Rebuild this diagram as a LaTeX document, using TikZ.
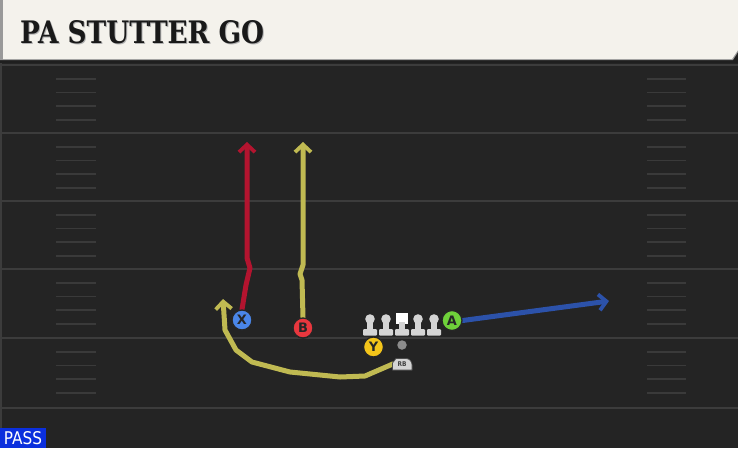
\documentclass[tikz,border=0pt]{standalone}
\usepackage{fontspec}
\setmainfont{DejaVu Sans}
\newfontfamily\titlefont{DejaVu Serif}
\newfontfamily\tagfont{DejaVu Sans Condensed}
\usetikzlibrary{arrows.meta}
\definecolor{fieldbg}{HTML}{242424}
\definecolor{fieldline}{HTML}{3C3C3C}
\definecolor{hashcol}{HTML}{3A3A3A}
\definecolor{headbg}{HTML}{F4F2EC}
\definecolor{routered}{HTML}{B3142F}
\definecolor{routeyel}{HTML}{C0BA52}
\definecolor{routeblue}{HTML}{2C52AA}
\definecolor{xfill}{HTML}{4A86E8}
\definecolor{bfill}{HTML}{E8373E}
\definecolor{yfill}{HTML}{F4C51A}
\definecolor{afill}{HTML}{6FD13A}
\definecolor{linegray}{HTML}{D4D4D4}
\definecolor{passblue}{HTML}{0B2FDD}
\tikzset{
  player/.style={circle,draw=black!85,line width=1.3pt,minimum size=20pt,inner sep=0pt,
    font=\bfseries\fontsize{13}{13}\selectfont,text=black!85},
  route/.style={line width=5pt,line join=round,line cap=round,
    -{Straight Barb[length=7.5pt,width=16pt,line width=3.8pt]}},
  fline/.style={fieldline,line width=2.2pt},
  hash/.style={hashcol,line width=1.8pt},
  lman/.pic={
    \fill[linegray] (0,-7) circle (4.8);
    \fill[linegray] (-2.7,-6) rectangle (2.7,4);
    \fill[linegray,rounded corners=1pt] (-7,3) rectangle (7,9.5);
  },
  cman/.pic={
    \fill[white] (-5.8,-13.5) rectangle (5.8,-2.5);
    \fill[linegray] (-2.7,-4) rectangle (2.7,4);
    \fill[linegray,rounded corners=1pt] (-7,3) rectangle (7,9.5);
  }
}
\begin{document}
\begin{tikzpicture}[x=1pt,y=-1pt]
\useasboundingbox (0,0) rectangle (738,448);
% background
\fill[fieldbg] (0,0) rectangle (738,448);
\fill[black!88] (0,56) rectangle (738,63);
% header
\fill[black!40] (0,0) -- (738,0) -- (738,52) -- (733,60) -- (0,60) -- cycle;
\fill[headbg] (3,0) -- (738,0) -- (738,50) -- (732,59) -- (3,59) -- cycle;
\node[anchor=south west,inner sep=0pt,text=black!30] at (21,45) {\resizebox{244pt}{23pt}{\titlefont\bfseries PA STUTTER GO}};
\node[anchor=south west,inner sep=0pt,text=black!90] (title) at (20,44)
  {\resizebox{244pt}{23pt}{\titlefont\bfseries PA STUTTER GO}};
% left edge
\draw[fieldline,line width=2pt] (1,63) -- (1,448);
% field lines
\foreach \yy in {65,133,201,269,338,408} {\draw[fline] (2,\yy) -- (738,\yy);}
% hash marks
\foreach \yy in {65,133,201,269,338} {
  \foreach \k in {1,2,3,4} {
    \draw[hash] (56,\yy+13.7*\k) -- (96,\yy+13.7*\k);
    \draw[hash] (647,\yy+13.7*\k) -- (686,\yy+13.7*\k);
  }
}
% linemen
\pic at (370,326) {lman};
\pic at (386,326) {lman};
\pic at (402,326) {cman};
\pic at (418,326) {lman};
\pic at (434,326) {lman};
% QB
\node[circle,fill=black!45,minimum size=9.5pt,inner sep=0pt] (qb) at (402,345) {};
% coordinates for route ends
\coordinate (xend) at (247,142);
\coordinate (bend) at (303,142);
\coordinate (rbend) at (223,299);
\coordinate (aend) at (609,301);
% players
\node[player,fill=xfill] (X) at (242,320) {X};
\node[player,fill=bfill] (B) at (303,328) {B};
\node[player,fill=yfill] (Y) at (373.5,347) {Y};
\node[player,fill=afill] (A) at (452,320.5) {A};
\node[inner sep=0pt,minimum width=18pt,minimum height=10pt] (RB) at (402,364) {};
% routes
\draw[route,routered] (X.north) -- (246,285) -- (250,268) -- (247,258) -- (xend);
\draw[route,routeyel] (B.north) -- (302,280) -- (300,274) -- (303,265) -- (bend);
\draw[route,routeyel] (RB.west) -- (365,376) -- (340,377) -- (290,372) -- (252,362) -- (236,350) -- (225,330) -- (rbend);
\draw[route,routeblue] (A.east) -- (aend);
% redraw players on top
\node[player,fill=xfill] at (X) {X};
\node[player,fill=bfill] at (B) {B};
\node[player,fill=yfill] at (Y) {Y};
\node[player,fill=afill] at (A) {A};
% RB tag
\fill[linegray,draw=black!70,line width=0.7pt] (392.5,370) -- (392.5,363) -- (396,358.5) -- (406,358.5) to[out=0,in=90] (412,365) -- (412,370) -- cycle;
\node[font=\tagfont\bfseries\fontsize{6.5}{6.5}\selectfont,text=black!75,inner sep=0pt] at (402,364.5) {RB};
% PASS label
\fill[passblue] (0,428) rectangle (46,448);
\node[anchor=south,inner sep=0pt,text=white] (pass) at (23,445)
  {\resizebox{38pt}{13pt}{\tagfont PASS}};
\end{tikzpicture}
\end{document}
